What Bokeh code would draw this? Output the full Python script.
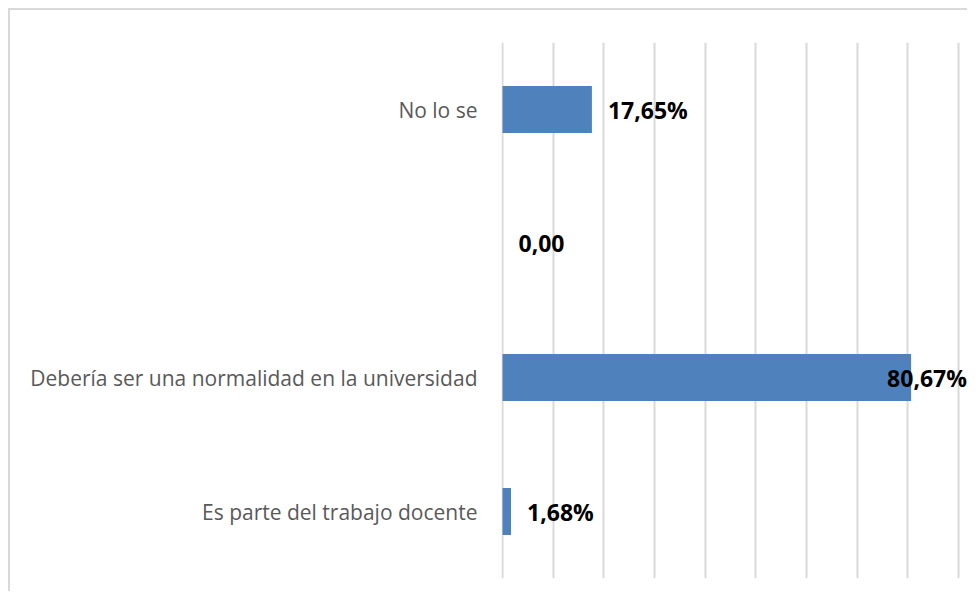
from bokeh.plotting import figure
from bokeh.models import ColumnDataSource, FactorRange, Range1d, FixedTicker
from bokeh.core.properties import value
from bokeh.embed import file_html
from bokeh.resources import INLINE

# Data (bottom to top)
categories = ["Es parte del trabajo docente",
              "Debería ser una normalidad en la universidad",
              " ",
              "No lo se"]
percentages = [1.68, 80.67, 0.00, 17.65]
value_labels = ["1,68%", "80,67%", "0,00", "17,65%"]
x_ticks = [0, 10, 20, 30, 40, 50, 60, 70, 80, 90]

offsets = [16 if v < 75 else -24 for v in percentages]
source = ColumnDataSource(dict(cat=categories, val=percentages,
                               lab=value_labels, off=offsets))

p = figure(width=959, height=583, output_backend="svg", toolbar_location=None,
           y_range=FactorRange(factors=categories), x_range=Range1d(-0.2, 92.2),
           min_border_left=491, min_border_top=32, min_border_bottom=15,
           min_border_right=0)
p.styles = {"border-top": "2px solid #d9d9d9", "border-left": "2px solid #d9d9d9",
            "margin-left": "8px", "margin-top": "8px"}
p.outline_line_color = None
p.background_fill_color = "white"
p.border_fill_color = "white"

p.hbar(y="cat", right="val", left=0, height=0.35, source=source,
       fill_color="#4f81bd", line_color=None)

p.text(x="val", y="cat", text="lab", source=source, x_offset="off",
       text_baseline="middle", text_align="left",
       text_font=value("Open Sans"), text_font_style="bold",
       text_font_size="23px", text_color="black")

p.xaxis.visible = False
p.xaxis.ticker = FixedTicker(ticks=x_ticks)
p.xgrid.ticker = FixedTicker(ticks=x_ticks)
p.xgrid.grid_line_color = "#d9d9d9"
p.xgrid.grid_line_width = 2
p.ygrid.grid_line_color = None

ya = p.yaxis[0]
ya.axis_line_color = None
ya.major_tick_line_color = None
ya.major_tick_out = 0
ya.major_tick_in = 0
ya.major_label_standoff = 24
ya.major_label_text_font = "Open Sans"
ya.major_label_text_font_size = "21px"
ya.major_label_text_color = "#595959"

open("out.html", "w").write(file_html(p, INLINE))
